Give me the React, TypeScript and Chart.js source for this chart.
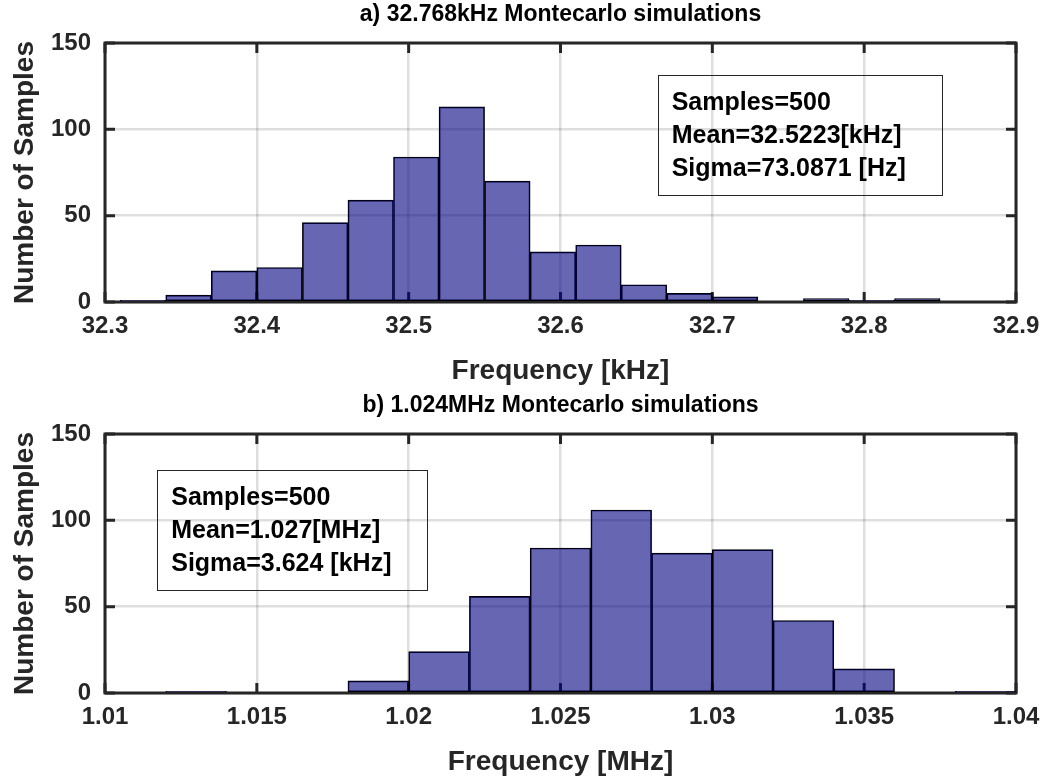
import React, { useEffect, useRef } from 'react';
import { Chart, registerables } from 'chart.js';

Chart.register(...registerables);

const FONT = '"Liberation Sans", Arial, Helvetica, sans-serif';
const TEXT = '#262626';

// ---- data ----
const topEdges = [32.31, 32.34, 32.37, 32.40, 32.43, 32.46, 32.49, 32.52, 32.55, 32.58, 32.61, 32.64, 32.67, 32.70, 32.73, 32.76, 32.79, 32.82, 32.85];
const topCounts = [1, 4, 18, 20, 46, 59, 84, 113, 70, 29, 33, 10, 5, 3, 0, 2, 1, 2];
const topXTicks = ['32.3', '32.4', '32.5', '32.6', '32.7', '32.8', '32.9'];
const topTitle = 'a) 32.768kHz Montecarlo simulations';
const topXLabel = 'Frequency [kHz]';
const topStats = ['Samples=500', 'Mean=32.5223[kHz]', 'Sigma=73.0871 [Hz]'];
const topBox = [32.664, 32.851, 131.5, 62]; // x1, x2, yTop, yBottom (data units)

const bottomEdges = [1.012, 1.014, 1.016, 1.018, 1.020, 1.022, 1.024, 1.026, 1.028, 1.030, 1.032, 1.034, 1.036, 1.038, 1.040];
const bottomCounts = [1, 0, 0, 7, 24, 56, 84, 106, 81, 83, 42, 14, 0, 1];
const bottomXTicks = ['1.01', '1.015', '1.02', '1.025', '1.03', '1.035', '1.04'];
const bottomTitle = 'b) 1.024MHz Montecarlo simulations';
const bottomXLabel = 'Frequency [MHz]';
const bottomStats = ['Samples=500', 'Mean=1.027[MHz]', 'Sigma=3.624 [kHz]'];
const bottomBox = [1.01172, 1.02062, 129.3, 60];

const yTicks = [0, 50, 100, 150];
const yLabel = 'Number of Samples';

const matlabPlugin = {
  id: 'matlab',
  beforeDatasetsDraw(chart: any, _a: any, opts: any) {
    const ctx = chart.ctx;
    const { left, right, top, bottom } = chart.chartArea;
    const xs = chart.scales.x;
    const ys = chart.scales.y;
    ctx.save();
    ctx.strokeStyle = TEXT;
    ctx.lineWidth = 3;
    ctx.beginPath();
    xs.ticks.forEach((t: any) => {
      const px = xs.getPixelForValue(t.value);
      ctx.moveTo(px, bottom);
      ctx.lineTo(px, bottom - 10);
      ctx.moveTo(px, top);
      ctx.lineTo(px, top + 10);
    });
    ys.ticks.forEach((t: any) => {
      const py = ys.getPixelForValue(t.value);
      ctx.moveTo(left, py);
      ctx.lineTo(left + 10, py);
      ctx.moveTo(right, py);
      ctx.lineTo(right - 10, py);
    });
    ctx.stroke();
    ctx.strokeRect(left, top, right - left, bottom - top);
    ctx.restore();
  },
  afterDatasetsDraw(chart: any, _a: any, opts: any) {
    const ctx = chart.ctx;
    const xs = chart.scales.x;
    const ys = chart.scales.y;
    const b = opts.box;
    const x1 = xs.getPixelForValue(b[0]);
    const x2 = xs.getPixelForValue(b[1]);
    const y1 = ys.getPixelForValue(b[2]);
    const y2 = ys.getPixelForValue(b[3]);
    ctx.save();
    ctx.strokeStyle = TEXT;
    ctx.lineWidth = 1;
    ctx.strokeRect(Math.round(x1) + 0.5, Math.round(y1) + 0.5, Math.round(x2 - x1), Math.round(y2 - y1));
    ctx.fillStyle = '#000';
    ctx.font = `bold 25px ${FONT}`;
    ctx.textBaseline = 'middle';
    ctx.textAlign = 'left';
    (opts.stats as string[]).forEach((s, i) => {
      ctx.fillText(s, x1 + 14, y1 + 28 + i * 33);
    });
    ctx.restore();
  },
  afterDraw(chart: any, _a: any, opts: any) {
    const ctx = chart.ctx;
    const { left, right, top } = chart.chartArea;
    ctx.save();
    ctx.fillStyle = '#000';
    ctx.font = `bold 23px ${FONT}`;
    ctx.textAlign = 'center';
    ctx.textBaseline = 'middle';
    ctx.fillText(opts.title, (left + right) / 2, top - 28);
    ctx.restore();
  },
};

type HistProps = {
  edges: number[];
  counts: number[];
  xTicks: string[];
  xLabel: string;
  title: string;
  stats: string[];
  box: number[];
  top: number;
};

function Histogram({ edges, counts, xTicks, xLabel, title, stats, box, top }: HistProps) {
  const ref = useRef<HTMLCanvasElement>(null);
  useEffect(() => {
    const data = counts.map((c, i) => ({ x: (edges[i] + edges[i + 1]) / 2, y: c }));
    const xVals = xTicks.map((s) => parseFloat(s));
    const chart = new Chart(ref.current as HTMLCanvasElement, {
      type: 'bar',
      data: {
        datasets: [
          {
            data: data as any,
            backgroundColor: 'rgba(0,0,128,0.6)',
            borderColor: '#000',
            borderWidth: 1,
            borderSkipped: false,
            barPercentage: 1,
            categoryPercentage: 1,
          } as any,
        ],
      },
      plugins: [matlabPlugin as any],
      options: {
        animation: false,
        responsive: false,
        events: [],
        layout: { padding: { top: 43, right: 35, left: 0, bottom: 0 } },
        plugins: {
          legend: { display: false },
          tooltip: { enabled: false },
          matlab: { title, stats, box },
        } as any,
        scales: {
          x: {
            type: 'linear',
            min: xVals[0],
            max: xVals[xVals.length - 1],
            offset: false,
            afterBuildTicks: (scale: any) => {
              scale.ticks = xVals.map((v) => ({ value: v }));
            },
            afterFit: (scale: any) => {
              scale.height = 89;
            },
            grid: { offset: false, color: 'rgba(0,0,0,0.13)', lineWidth: 2.5, drawTicks: false },
            border: { display: false },
            ticks: {
              autoSkip: false,
              maxRotation: 0,
              padding: 10,
              color: TEXT,
              font: { family: FONT, size: 24, weight: 'bold' },
              callback: (_v: any, i: number) => xTicks[i],
            },
            title: {
              display: true,
              text: xLabel,
              color: TEXT,
              font: { family: FONT, size: 28, weight: 'bold' },
              padding: { top: 0, bottom: 3 },
            },
          } as any,
          y: {
            type: 'linear',
            min: yTicks[0],
            max: yTicks[yTicks.length - 1],
            afterBuildTicks: (scale: any) => {
              scale.ticks = yTicks.map((v) => ({ value: v }));
            },
            afterFit: (scale: any) => {
              scale.width = 105;
            },
            grid: { color: 'rgba(0,0,0,0.13)', lineWidth: 2.5, drawTicks: false },
            border: { display: false },
            ticks: {
              padding: 14,
              color: TEXT,
              font: { family: FONT, size: 24, weight: 'bold' },
              callback: (v: any) => String(v),
            },
            title: {
              display: true,
              text: yLabel,
              color: TEXT,
              font: { family: FONT, size: 28, weight: 'bold' },
              padding: { top: 8, bottom: 0 },
            },
          } as any,
        },
      },
    });
    return () => chart.destroy();
  }, []);
  return (
    <canvas
      ref={ref}
      width={1051}
      height={391}
      style={{ position: 'absolute', left: 0, top, display: 'block', width: 1051, height: 391 }}
    />
  );
}

export default function App() {
  return (
    <div style={{ position: 'absolute', left: 0, top: 0, width: 1051, height: 782, background: '#fff' }}>
      <Histogram edges={topEdges} counts={topCounts} xTicks={topXTicks} xLabel={topXLabel} title={topTitle} stats={topStats} box={topBox} top={0} />
      <Histogram edges={bottomEdges} counts={bottomCounts} xTicks={bottomXTicks} xLabel={bottomXLabel} title={bottomTitle} stats={bottomStats} box={bottomBox} top={391} />
    </div>
  );
}
